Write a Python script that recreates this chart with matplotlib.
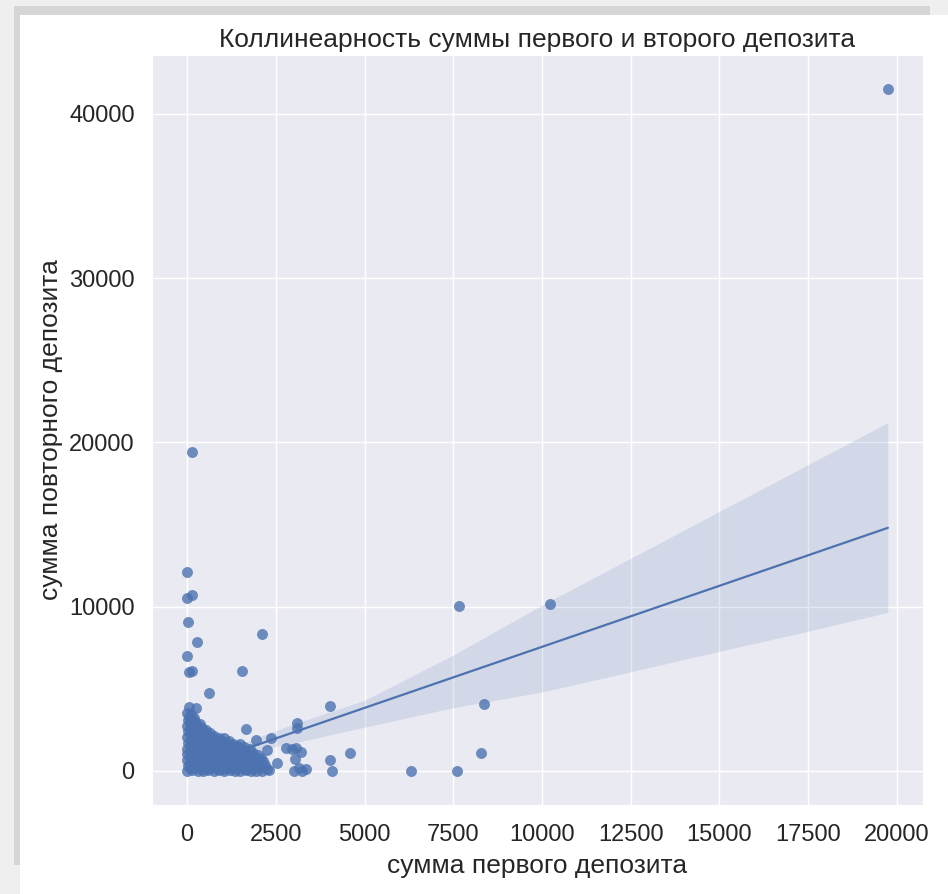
import matplotlib
matplotlib.use("Agg")
import matplotlib.pyplot as plt
import matplotlib.patches as patches
import seaborn as sns

sns.set_style("darkgrid")
plt.rcParams["font.family"] = ["Liberation Sans", "DejaVu Sans"]

# first deposit / repeat deposit amounts
first_dep = [
    # dense bulk near the origin
    0, 150, 300, 450, 600, 750, 900, 1050, 1200, 1350, 1500, 1650, 1800, 1950, 2100, 2300,
    80, 260, 440, 620, 800, 980, 1160, 1340, 1520, 1700, 1880, 2060, 2250,
    20, 200, 380, 560, 740, 920, 1100, 1280, 1460, 1640, 1820, 2000, 2200,
    90, 270, 450, 630, 810, 990, 1170, 1350, 1530, 1710, 1890, 2080,
    0, 170, 340, 520, 700, 880, 1060, 1240, 1420, 1600, 1780, 1960, 2150,
    100, 280, 460, 640, 820, 1000, 1180, 1360, 1540, 1720, 1900, 2080,
    10, 190, 370, 550, 730, 910, 1090, 1270, 1450, 1630, 1810, 2010,
    80, 250, 420, 590, 770, 950, 1130, 1310, 1490, 1670, 1850,
    0, 160, 320, 500, 680, 860, 1040, 1220, 1400, 1580, 1760,
    90, 280, 470, 650, 830, 1010, 1200, 1400, 1600,
    30, 200, 380, 560, 740, 920, 1100, 1300, 1500,
    100, 280, 460, 640, 820, 990, 1180,
    0, 180, 360, 540, 720, 900, 1050,
    90, 250, 420, 580, 760,
    20, 170, 330, 500, 650,
    80, 230, 380, 520,
    0, 150, 300, 420,
    90, 250, 370,
    30, 180, 60, 200, 0, 120, 60, 250,
    # around the edge of the bulk
    1660, 1940, 2360, 2250, 2530, 2780, 2950, 3060, 3100, 3090, 3200, 3050, 3150, 3350, 3000, 3250,
    # scattered outliers
    140, 0, 140, 0, 30, 280, 0, 60, 2110, 1540, 620, 150,
    4020, 4580, 4040, 4070, 6320, 7610, 7670, 8370, 8290, 10220, 19750,
]
repeat_dep = [
    0, 40, 0, 20, 60, 0, 30, 0, 50, 10, 0, 40, 0, 20, 0, 30,
    150, 170, 140, 160, 180, 130, 160, 150, 170, 140, 160, 150, 130,
    300, 330, 280, 310, 350, 290, 320, 270, 340, 300, 310, 280, 330,
    480, 500, 460, 490, 470, 510, 480, 460, 500, 470, 490, 450,
    650, 620, 680, 640, 660, 610, 690, 640, 620, 670, 650, 630, 600,
    820, 840, 800, 830, 810, 850, 820, 800, 840, 810, 790, 780,
    1000, 980, 1030, 990, 1010, 970, 1020, 1000, 980, 1040, 990, 950,
    1170, 1190, 1150, 1180, 1160, 1200, 1170, 1150, 1190, 1160, 1120,
    1350, 1320, 1380, 1340, 1360, 1310, 1390, 1330, 1360, 1300, 1340,
    1520, 1540, 1500, 1530, 1510, 1550, 1520, 1490, 1460,
    1700, 1730, 1680, 1720, 1690, 1740, 1700, 1650, 1620,
    1880, 1900, 1860, 1890, 1870, 1850, 1820,
    2050, 2080, 2020, 2060, 2030, 2000, 1980,
    2230, 2250, 2210, 2200, 2150,
    2400, 2430, 2380, 2350, 2300,
    2580, 2600, 2560, 2500,
    2750, 2720, 2680, 2620,
    2930, 2900, 2850,
    3100, 3050, 3300, 3250, 3500, 3450, 3900, 3850,
    2560, 1900, 2000, 1250, 490, 1400, 1350, 1400, 2920, 2600, 1150, 700, 150, 100, 0, 0,
    19400, 12110, 10710, 10530, 9070, 7850, 7000, 6030, 8340, 6090, 4750, 6100,
    3960, 1100, 670, 0, 0, 0, 10040, 4080, 1100, 10160, 41500,
]

# fitted regression line with its confidence band
fit_x = [0, 1000, 2000, 3000, 5000, 7500, 10000, 12500, 15000, 17500, 19750]
fit_y = [120, 863, 1606, 2349, 3835, 5693, 7550, 9408, 11265, 13123, 14795]
ci_hi = [400, 1150, 2050, 2850, 4300, 7050, 10090, 12940, 15790, 18640, 21200]
ci_lo = [-100, 650, 1250, 1700, 2660, 3850, 4800, 6030, 7280, 8500, 9650]

color = "#4C72B0"
text_color = "#262626"

fig = plt.figure(figsize=(9.48, 8.94), dpi=100, facecolor="white")

# grey border along top and left edges
W, H = 948, 894
fig.patches.append(patches.Rectangle((0, 1 - 15 / H), 1, 15 / H, transform=fig.transFigure,
                                     facecolor="#efefef", edgecolor="none", zorder=0))
fig.patches.append(patches.Rectangle((0, 0), 20 / W, 1, transform=fig.transFigure,
                                     facecolor="#efefef", edgecolor="none", zorder=0))
fig.patches.append(patches.Rectangle((14 / W, 1 - 15 / H), (930 - 14) / W, 9 / H,
                                     transform=fig.transFigure,
                                     facecolor="#d6d6d6", edgecolor="none", zorder=1))
fig.patches.append(patches.Rectangle((14 / W, 1 - 865 / H), 6 / W, (865 - 6) / H,
                                     transform=fig.transFigure,
                                     facecolor="#d6d6d6", edgecolor="none", zorder=1))

ax = fig.add_axes([152 / W, 1 - 805 / H, (923 - 152) / W, (805 - 55) / H])

ax.scatter(first_dep, repeat_dep, s=62, color=color, alpha=0.8, linewidths=0, zorder=3)
ax.fill_between(fit_x, ci_lo, ci_hi, color=color, alpha=0.15, linewidth=0, zorder=2)
ax.plot(fit_x, fit_y, color=color, lw=1.6, zorder=4)

ax.set_xlim(-990, 20740)
ax.set_ylim(-2075, 43575)
ax.set_xticks([0, 2500, 5000, 7500, 10000, 12500, 15000, 17500, 20000])
ax.set_yticks([0, 10000, 20000, 30000, 40000])
ax.grid(True, color="white", linewidth=1.0)
ax.tick_params(axis="x", labelsize=17, pad=10, colors=text_color)
ax.tick_params(axis="y", labelsize=17, pad=9, colors=text_color)

ax.set_title("Коллинеарность суммы первого и второго депозита", fontsize=19, color=text_color, pad=6)
ax.set_xlabel("сумма первого депозита", fontsize=19, color=text_color, labelpad=6)
ax.set_ylabel("сумма повторного депозита", fontsize=19, color=text_color, labelpad=4)

fig.savefig("out.png", dpi=100, facecolor=fig.get_facecolor())
